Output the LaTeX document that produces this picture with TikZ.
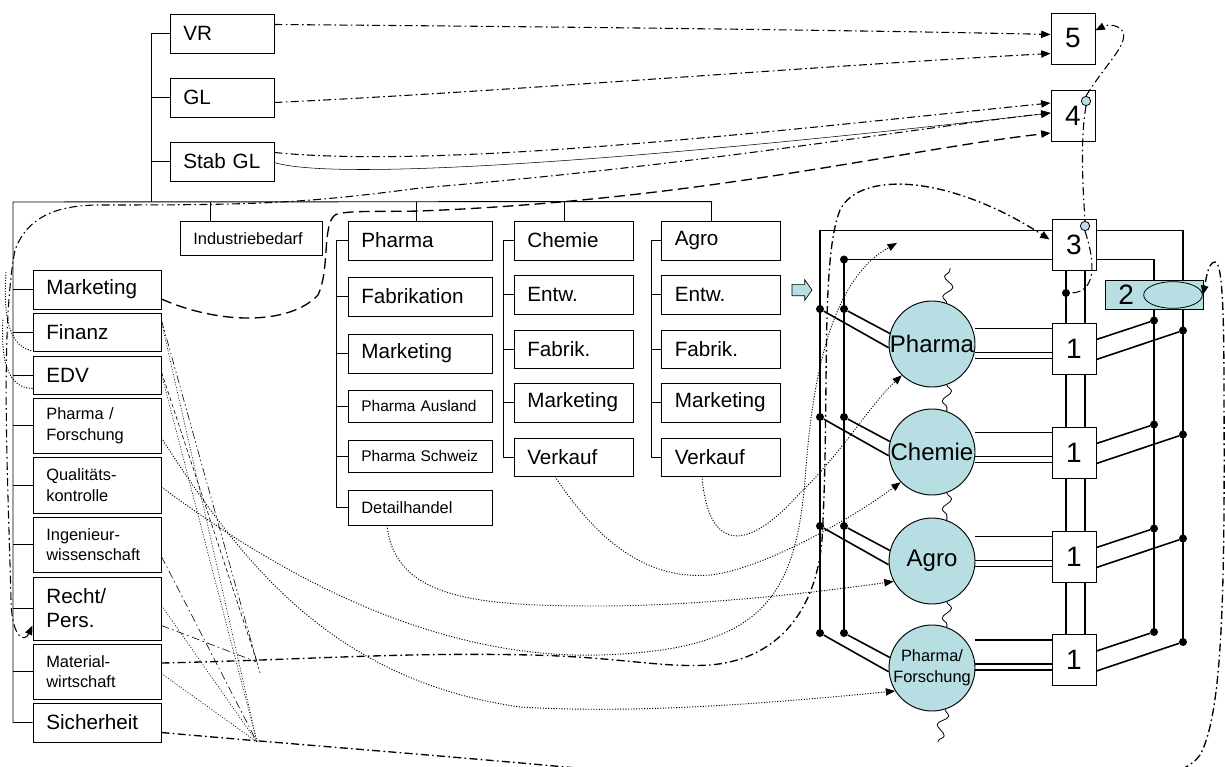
\documentclass[tikz,border=0pt]{standalone}
\usepackage{fontspec}
\setmainfont{Liberation Sans}
\usetikzlibrary{calc,arrows.meta,shapes.geometric,shapes.arrows,decorations.pathmorphing}

\definecolor{lightteal}{RGB}{183,222,227}

\newcommand{\fbig}{\fontsize{15.5}{18}\selectfont}
\newcommand{\fsml}{\fontsize{12.3}{15.5}\selectfont}
\newcommand{\fmini}{\fontsize{11.6}{14}\selectfont}
\newcommand{\fcirc}{\fontsize{18}{20}\selectfont}
\newcommand{\fnum}{\fontsize{21}{24}\selectfont}

\tikzset{
  orgbox/.style={draw, line width=0.7pt, inner xsep=10pt, inner ysep=0pt, align=left, font=\fbig},
  numbox/.style={draw, fill=white, line width=0.7pt, minimum width=33pt, minimum height=38.25pt, inner sep=0pt, font=\fnum},
  unit/.style={circle, draw, fill=lightteal, line width=0.7pt, minimum size=64.5pt, inner sep=0pt, font=\fcirc},
  knot/.style={circle, fill=black, minimum size=6pt, inner sep=0pt},
  port/.style={circle, draw, fill=lightteal, minimum size=7pt, inner sep=0pt, line width=0.6pt},
  tree/.style={line width=0.7pt},
  frame/.style={line width=0.8pt},
  link/.style={line width=1.2pt},
  spring/.style={decorate, decoration={snake, segment length=15pt, amplitude=3.5pt}, line width=0.6pt},
  dd/.style={line width=0.8pt, dash pattern=on 6pt off 2.5pt on 1.2pt off 2.5pt},
  ddd/.style={line width=0.8pt, dash pattern=on 6pt off 2pt on 1.2pt off 2pt on 1.2pt off 2pt},
  ldash/.style={line width=1pt, dash pattern=on 8pt off 4pt},
  sdash/.style={dash pattern=on 3pt off 2pt},
  dots/.style={line width=0.7pt, dash pattern=on 0.8pt off 1.2pt},
  faint/.style={line width=0.45pt},
  >={Triangle[length=7pt,width=5.5pt]}
}

\begin{document}
\begin{tikzpicture}[x=0.75pt,y=0.75pt,yscale=-1,xscale=1]
\useasboundingbox (0,0) rectangle (1225,767);

% Top boxes
\node[orgbox, text width=58pt, minimum height=29.25pt] (vr) at (222,33.5) {VR};
\node[orgbox, text width=58pt, minimum height=29.25pt] (gl) at (222,97.5) {GL};
\node[orgbox, text width=58pt, minimum height=29.25pt] (stab) at (222,161.5) {Stab GL};
\node[orgbox, font=\fsml, text width=86.5pt, minimum height=25.5pt] (indb) at (251,238.5) {Industriebedarf};

% Pharma column
\node[orgbox, text width=88pt, minimum height=29.25pt] (pharma) at (420,240.5) {Pharma};
\node[orgbox, text width=88pt, minimum height=29.25pt] (fabr) at (420,296.5) {Fabrikation};
\node[orgbox, text width=88pt, minimum height=29.25pt] (pmark) at (420,353.5) {Marketing};
\node[orgbox, font=\fmini, text width=88pt, minimum height=24pt] (paus) at (420,406) {Pharma Ausland};
\node[orgbox, font=\fmini, text width=88pt, minimum height=24pt] (pschw) at (420,456) {Pharma Schweiz};
\node[orgbox, font=\fsml, text width=88pt, minimum height=26.25pt] (dhandel) at (420,507.5) {Detailhandel};
\draw[tree] (pharma.west) -- ++(-11,0) |- (dhandel.west);
\foreach \b in {fabr,pmark,paus,pschw} \draw[tree] (\b.west) -- ++(-11,0);
\draw[tree] ($(pharma.north)+(-4,0)$) -- ++(0,-19);

% Chemie and Agro columns
\foreach \x/\p/\t in {573.5/c/Chemie, 721/a/Agro} {
  \node[orgbox, text width=69.25pt, minimum height=29.25pt] (\p head) at (\x,240.5) {\t};
  \node[orgbox, text width=69.25pt, minimum height=29.25pt] (\p entw) at (\x,294.5) {Entw.};
  \node[orgbox, text width=69.25pt, minimum height=28.5pt] (\p fab) at (\x,349) {Fabrik.};
  \node[orgbox, text width=69.25pt, minimum height=29.25pt] (\p mark) at (\x,402.5) {Marketing};
  \node[orgbox, text width=69.25pt, minimum height=28.5pt] (\p verk) at (\x,457) {Verkauf};
  \draw[tree] (\p head.west) -- ++(-10,0) |- (\p verk.west);
  \foreach \b in {entw,fab,mark} \draw[tree] (\p\b.west) -- ++(-10,0);
  \draw[tree] ($(\p head.north)+(-9.5,0)$) -- ++(0,-19);
}

% Left column
\node[orgbox, text width=76pt, minimum height=29.25pt] (mark) at (97,289.5) {Marketing};
\node[orgbox, text width=76pt, minimum height=28.5pt] (fin) at (97,332) {Finanz};
\node[orgbox, text width=76pt, minimum height=28.5pt] (edv) at (97,375) {EDV};
\node[orgbox, font=\fsml, text width=76pt, minimum height=41.25pt] (pfor) at (97,425.5) {Pharma /\\Forschung};
\node[orgbox, font=\fsml, text width=76pt, minimum height=42pt] (qual) at (97,485) {Qualitäts-\\kontrolle};
\node[orgbox, font=\fsml, text width=76pt, minimum height=41.25pt] (ing) at (97,544.5) {Ingenieur-\\wissenschaft};
\node[orgbox, text width=76pt, minimum height=47.25pt] (recht) at (97,608.5) {Recht/\\Pers.};
\node[orgbox, font=\fsml, text width=76pt, minimum height=41.25pt] (mat) at (97,671.5) {Material-\\wirtschaft};
\node[orgbox, text width=76pt, minimum height=29.25pt] (sich) at (97,722.5) {Sicherheit};

% Tree lines
\draw[tree] (vr.west) -| (151,202);
\draw[tree] (gl.west) -- ++(-19,0);
\draw[tree] (stab.west) -- ++(-19,0);
\draw[tree] (sich.west) -| (13,202) -- ($(ahead.north)+(-9,-19)$);
\draw[tree] ($(indb.north)+(-41,0)$) -- ++(0,-19);
\foreach \b in {mark,fin,edv,pfor,qual,ing,recht,mat} \draw[tree] (\b.west) -- ++(-20,0);

% Right structure
\node[numbox] (b5) at (1073,38.5) {5};
\node[numbox] (b4) at (1073,116) {4};
\node[numbox] (b3) at (1074,244.5) {3};
\foreach \i/\y in {1/348.5, 2/452.5, 3/556.5, 4/660} \node[numbox] (r\i) at (1074,\y) {1};
\node[port] (c4) at (1086,101) {};
\node[port] (c3) at (1085,226) {};

\node[unit] (pc1) at (932,344) {Pharma};
\node[unit] (pc2) at (932,452) {Chemie};
\node[unit] (pc3) at (932,561) {Agro};
\node[unit, font=\fsml, align=center] (pc4) at (932,668) {Pharma/\\Forschung};

\coordinate (otop) at ($(b3.north west)+(0,12)$);
\coordinate (itop) at ($(b3.north west)+(0,41)$);

\foreach \i in {1,...,4} {
  \node[knot] (lo\i) at ($(pc\i.center)+(-112,-35)$) {};
  \node[knot] (li\i) at ($(pc\i.center)+(-88,-35)$) {};
  \draw[link] (lo\i) -- (pc\i.185);
  \draw[link] (li\i) -- (pc\i.166);
  \node[knot] (ri\i) at ($(r\i.center)+(80,-28)$) {};
  \node[knot] (ro\i) at ($(r\i.center)+(109,-18)$) {};
  \draw[link] ($(r\i.east)+(0,-9)$) -- (ri\i);
  \draw[link] ($(r\i.east)+(0,11)$) -- (ro\i);
  \coordinate (ha\i) at ($(r\i.west)+(0,-20)$);
  \coordinate (hb\i) at ($(r\i.west)+(0,4)$);
  \coordinate (hc\i) at ($(r\i.west)+(0,10)$);
  \draw[frame] (pc\i.east |- ha\i) -- (ha\i);
  \draw[frame] (pc\i.east |- hb\i) -- (hb\i);
  \draw[frame] (pc\i.east |- hc\i) -- (hc\i);
}

\draw[frame] (lo4.center) |- (otop);
\draw[frame] (li4.center) |- (itop);
\draw[frame] (otop -| b3.east) -| (ro4.center);
\draw[frame] (itop -| b3.east) -| (ri4.center);
\node[knot] (ic) at (li1 |- itop) {};

\foreach \u/\l in {b3/r1, r1/r2, r2/r3, r3/r4} {
  \draw[frame] ($(\u.south)+(-8,0)$) -- ($(\l.north)+(-8,0)$);
  \draw[frame] ($(\u.south)+(11,0)$) -- ($(\l.north)+(11,0)$);
}
\node[knot] (jd) at (1066,293) {};

\node[draw, fill=lightteal, line width=0.7pt, minimum width=73.5pt, minimum height=21.75pt, text width=53.5pt, inner xsep=10pt, inner ysep=0pt, align=left, font=\fnum] (b2) at (1154,294.5) {2};
\node[ellipse, draw, fill=lightteal, line width=0.6pt, minimum width=44pt, minimum height=20pt, inner sep=0pt] (el) at (1173,295) {};

\node[single arrow, draw, fill=lightteal, line width=0.5pt, minimum height=15pt, inner sep=4pt, single arrow head extend=3.5pt, single arrow tip angle=110] (inarr) at (800,290) {};

% Springs
\coordinate (sp1) at (950,268);
\coordinate (sp5) at (938,742);
\draw[spring] (pc1.70) -- (sp1);
\draw[spring] (pc1.-70) -- (pc2.70);
\draw[spring] (pc2.-70) -- (pc3.70);
\draw[spring] (pc3.-70) -- (pc4.70);
\draw[spring] (pc4.-72) -- (sp5);

% Connectors to 5 and 4
\draw[dd,->] ($(vr.east)+(0,-9)$) .. controls (600,27) and (900,31) .. ($(b5.west)+(0,-4)$);
\draw[dd,->] ($(gl.east)+(0,5)$) .. controls (500,92) and (800,67) .. ($(b5.west)+(0,15)$);
\draw[dd,->] ($(stab.east)+(0,-9)$) .. controls (450,170) and (800,128) .. ($(b4.west)+(0,-13)$);
\draw[->] ($(stab.east)+(0,1)$) .. controls (330,180) and (600,165) .. ($(b4.west)+(0,-3)$);
\draw[ldash,->] ($(mark.east)+(0,9.5)$) .. controls (220,325) and (290,325) .. (318,295) .. controls (330,270) and (322,225) .. (335,215) .. controls (345,210) and (380,212) .. (420,211) .. controls (700,200) and (900,150) .. ($(b4.west)+(0,17)$);
\draw[dd,<->] ($(recht.west)+(0,17)$) .. controls (25,642) and (12,640) .. (11,600) .. controls (8,480) and (0,330) .. (15,250) .. controls (28,215) and (60,205) .. (100,205) .. controls (250,205) and (300,204) .. (420,188) .. controls (700,165) and (900,130) .. ($(b4.west)+(0,-3)$);

% Left loops
\coordinate (fe) at (6,272);
\coordinate (ee) at (3,318);
\draw[dots] ($(fin.south west)+(4,0)$) .. controls (15,350) and (2,330) .. (fe);
\draw[dots] ($(edv.south west)+(0,-6)$) .. controls (12,388) and (0,370) .. (ee);

% Material and Sicherheit
\draw[dd,line width=1pt,->] ($(mat.east)+(0,-8.5)$) .. controls (300,660) and (400,652) .. (530,655) .. controls (620,657) and (660,668) .. (710,665) .. controls (770,660) and (815,620) .. (822,540) .. controls (830,400) and (820,260) .. (840,210) .. controls (860,170) and (950,175) .. ($(b3.west)+(-2,-5)$);
\draw[dd,line width=1pt,->] ($(sich.east)+(0,10)$) .. controls (300,745) and (500,760) .. (650,775) .. controls (950,805) and (1170,800) .. (1200,755) .. controls (1222,715) and (1225,600) .. (1224,400) .. controls (1224,320) and (1223,262) .. (1215,262) .. controls (1208,262) and (1206,280) .. (el.east);

% 4, 5, 3 loop
\draw[dd,->] (c4.north) .. controls (1105,65) and (1128,45) .. (1123,32) .. controls (1120,25) and (1108,24) .. (b5.20);
\draw[dd] (c4.south) .. controls (1080,140) and (1083,190) .. (c3.north);
\draw[dd] (c3.south) .. controls (1093,255) and (1100,293) .. (jd);

% Dotted to the units
\coordinate (ftop) at (897,243);
\draw[dots,->] ($(averk.south)+(-19,0)$) .. controls (708,550) and (745,555) .. (800,493) .. controls (840,455) and (870,405) .. (pc1.226);
\draw[dots,->] ($(cverk.south)+(-18.5,0)$) .. controls (600,545) and (650,580) .. (710,575) .. controls (760,570) and (850,520) .. (pc2.224);
\draw[dots,->] ($(dhandel.south)+(-33,0)$) .. controls (395,600) and (480,606) .. (600,606) .. controls (700,606) and (820,592) .. (pc3.208);
\draw[dots,->] ($(qual.east)+(0,2)$) .. controls (260,560) and (420,660) .. (600,655) .. controls (760,650) and (795,600) .. (805,480) .. controls (812,380) and (830,280) .. (ftop);
\draw[dots,->] ($(pfor.east)+(0,12.5)$) .. controls (240,560) and (330,680) .. (520,707) .. controls (650,715) and (800,700) .. (pc4.212);

% Thin lines from the left column
\coordinate (jm) at (257,662);
\coordinate (js) at (257,742);
\coordinate (jx) at (260,673);
\draw[ddd,faint] ($(fin.east)+(0,-12)$) -- (jx);
\draw[dots,faint] ($(fin.east)+(0,-10)$) -- (js);
\draw[sdash,faint] ($(edv.east)+(0,-3)$) -- (jm);
\draw[dots,faint] ($(edv.east)+(0,-1)$) -- (js);
\draw[dd,faint] ($(ing.east)+(0,12)$) -- (js);
\draw[dots,faint] ($(recht.east)+(0,-3)$) -- (js);
\draw[dd,faint] ($(recht.east)+(0,17)$) -- (jm);
\draw[dots,faint] ($(mat.east)+(0,2)$) -- (js);
\end{tikzpicture}
\end{document}
